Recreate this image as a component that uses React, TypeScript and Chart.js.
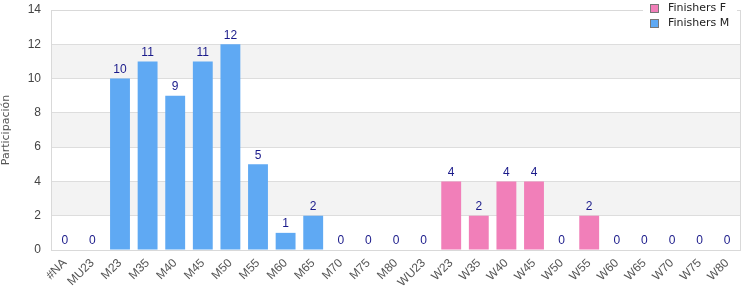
import React, { useEffect, useRef } from "react";
import { Chart, registerables } from "chart.js";

Chart.register(...registerables);

const categories = ["#NA","MU23","M23","M35","M40","M45","M50","M55","M60","M65","M70","M75","M80","WU23","W23","W35","W40","W45","W50","W55","W60","W65","W70","W75","W80"];
const finishersF = [0,0,0,0,0,0,0,0,0,0,0,0,0,0,4,2,4,4,0,2,0,0,0,0,0];
const finishersM = [0,0,10,11,9,11,12,5,1,2,0,0,0,0,0,0,0,0,0,0,0,0,0,0,0];
const yTicks = [0,2,4,6,8,10,12,14];

const SANS = "'Liberation Sans', Arial, sans-serif";
const DEJAVU = "'DejaVu Sans', Verdana, sans-serif";
const PINK = "#f17fb9";
const BLUE = "#5fa9f3";

const bandsPlugin = {
  id: "bands",
  beforeDraw(chart: any) {
    const { ctx, chartArea, scales } = chart;
    const y = scales.y;
    ctx.save();
    ctx.fillStyle = "#f3f3f3";
    for (let v = 2; v < 14; v += 4) {
      const top = y.getPixelForValue(v + 2);
      const bot = y.getPixelForValue(v);
      ctx.fillRect(chartArea.left, top, chartArea.right - chartArea.left, bot - top);
    }
    ctx.restore();
  },
  afterDraw(chart: any) {
    const { ctx, chartArea, scales } = chart;
    ctx.save();
    ctx.strokeStyle = "#d9d9d9";
    ctx.lineWidth = 1;
    ctx.strokeRect(chartArea.left + 0.5, chartArea.top + 0.5, chartArea.right - chartArea.left - 1, chartArea.bottom - chartArea.top);
    ctx.fillStyle = "#1a1a8a";
    ctx.font = `12px ${SANS}`;
    ctx.textAlign = "center";
    ctx.textBaseline = "bottom";
    categories.forEach((c, i) => {
      const total = finishersF[i] + finishersM[i];
      const x = scales.x.getPixelForValue(i);
      const yy = scales.y.getPixelForValue(total);
      ctx.fillText(String(total), x, yy - 3);
    });
    ctx.fillStyle = "#ffffff";
    ctx.fillRect(643, 0, 94, 30);
    const items = [["Finishers F", PINK], ["Finishers M", BLUE]];
    ctx.textAlign = "left";
    ctx.textBaseline = "middle";
    ctx.font = `11px ${DEJAVU}`;
    items.forEach(([label, color], k) => {
      const yy = 8.5 + k * 15;
      ctx.fillStyle = color;
      ctx.fillRect(651, yy - 3.5, 7, 7);
      ctx.strokeStyle = "#777";
      ctx.strokeRect(650.5, yy - 4, 8, 8);
      ctx.fillStyle = "#222";
      ctx.fillText(label, 668, yy);
    });
    ctx.restore();
  },
};

export default function App() {
  const ref = useRef<HTMLCanvasElement>(null);
  useEffect(() => {
    document.body.style.margin = "0";
    const chart = new Chart(ref.current!, {
      type: "bar",
      data: {
        labels: categories,
        datasets: [
          { label: "Finishers F", data: finishersF, backgroundColor: PINK, borderWidth: 0, barPercentage: 0.72, categoryPercentage: 1 },
          { label: "Finishers M", data: finishersM, backgroundColor: BLUE, borderWidth: 0, barPercentage: 0.72, categoryPercentage: 1 },
        ],
      },
      options: {
        animation: false,
        responsive: false,
        layout: { padding: { top: 10, right: 9, left: 0, bottom: 0 } },
        plugins: { legend: { display: false }, tooltip: { enabled: false } },
        scales: {
          x: {
            stacked: true,
            grid: { display: false, drawTicks: false },
            border: { display: false },
            ticks: { color: "#555", font: { family: SANS, size: 12 }, maxRotation: 45, minRotation: 45, padding: 6, autoSkip: false },
            afterFit(scale: any) { scale.height = 50; scale.paddingLeft = 0; scale.paddingRight = 0; },
          },
          y: {
            stacked: true,
            min: 0,
            max: 14,
            afterBuildTicks(scale: any) { scale.ticks = yTicks.map((v) => ({ value: v })); },
            grid: { color: "#dddddd", drawTicks: false },
            border: { display: false },
            ticks: { color: "#444", font: { family: SANS, size: 12 }, padding: 10 },
            title: { display: true, text: "Participación", color: "#555", font: { family: DEJAVU, size: 11 }, padding: 0 },
            afterFit(scale: any) { scale.width = 51; scale.paddingTop = 0; scale.paddingBottom = 0; },
          },
        },
      },
      plugins: [bandsPlugin],
    });
    return () => chart.destroy();
  }, []);
  return <canvas ref={ref} width={750} height={300} style={{ display: "block" }} />;
}
